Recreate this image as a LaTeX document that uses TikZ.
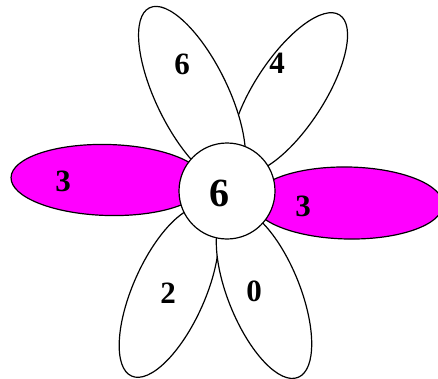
\documentclass[tikz,border=0pt]{standalone}
\usepackage{fontspec}
\setmainfont{Liberation Serif}
\usetikzlibrary{shapes.geometric}
\definecolor{petalpink}{RGB}{255,0,255}

\begin{document}
\begin{tikzpicture}[
    x=1pt, y=1pt,
    petal/.style={ellipse, draw, line width=1.2pt, fill=white, inner sep=0pt},
    pinkpetal/.style={petal, fill=petalpink},
    digit/.style={font=\fontsize{31}{31}\selectfont\bfseries, inner sep=0pt},
]
\useasboundingbox (0,0) rectangle (438,378);

% --- petals ---
\node[petal, minimum width=70pt, minimum height=186pt, rotate=-33] (p4) at (289,285) {};
\node[petal, minimum width=72pt, minimum height=194pt, rotate=26] (p6) at (192,283) {};
\node[pinkpetal, minimum width=194pt, minimum height=71pt, rotate=-1.5] (pl) at (108,198) {};
\node[pinkpetal, minimum width=190pt, minimum height=72pt, rotate=-1] (pr) at (348,175) {};
\node[petal, minimum width=72pt, minimum height=184pt, rotate=-24] (p2) at (169,86) {};
\node[petal, minimum width=72pt, minimum height=182pt, rotate=22] (p0) at (264,85) {};

% --- centre ---
\node[circle, draw, line width=1.2pt, fill=white, minimum size=96pt, inner sep=0pt] (hub) at (227,187) {};

% --- numbers ---
\node[digit] (n6) at (182,314) {6};
\node[digit] (n4) at (277,315) {4};
\node[digit] (nl) at (63,197) {3};
\node[digit] (nr) at (303,172) {3};
\node[digit] (n2) at (168,85) {2};
\node[digit] (n0) at (254,87) {0};
\node[digit, font=\fontsize{40}{40}\selectfont\bfseries] (nc) at (219,185) {6};

\end{tikzpicture}
\end{document}
